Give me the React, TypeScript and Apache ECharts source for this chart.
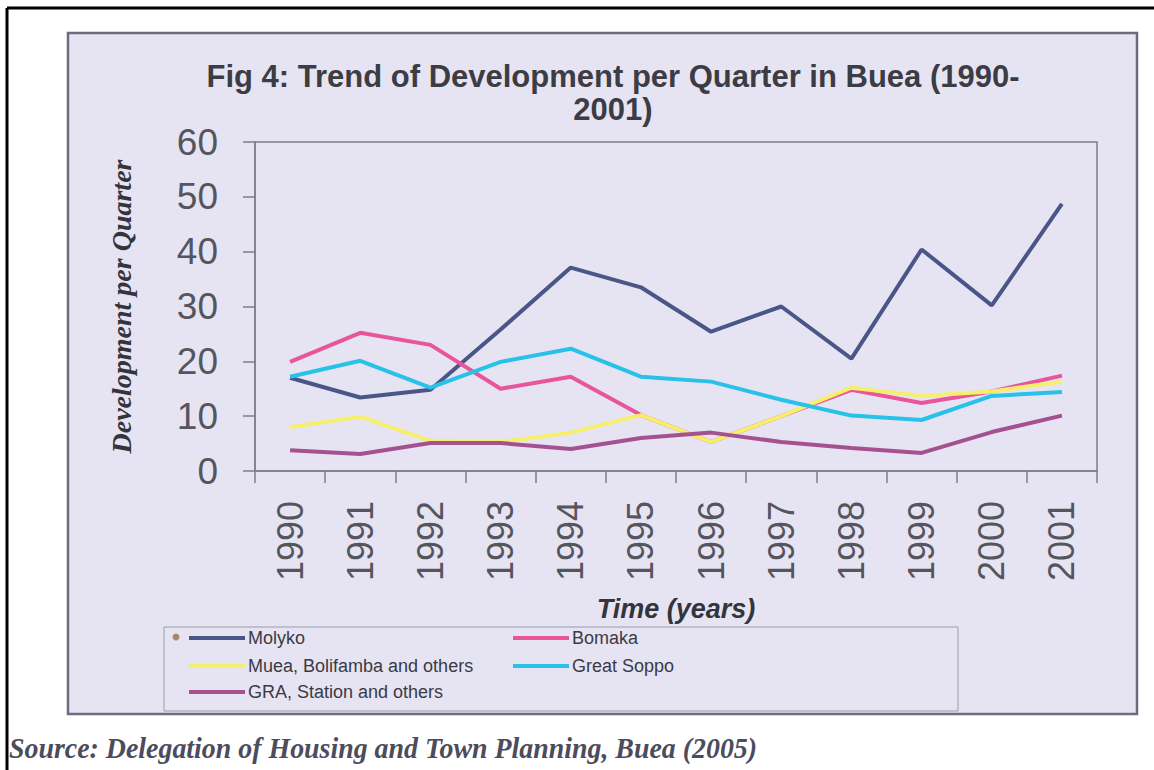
import React, { useEffect, useRef } from "react";
import * as echarts from "echarts";

const years = ["1990", "1991", "1992", "1993", "1994", "1995", "1996", "1997", "1998", "1999", "2000", "2001"];
const molyko = [17.0, 13.4, 14.8, 25.8, 37.1, 33.5, 25.4, 30.0, 20.5, 40.4, 30.2, 48.7];
const bomaka = [19.9, 25.2, 23.0, 15.0, 17.2, 10.2, 5.3, 10.0, 14.8, 12.4, 14.5, 17.4];
const muea = [8.0, 9.9, 5.5, 5.3, 7.0, 10.2, 5.3, 10.0, 15.2, 13.7, 14.5, 16.3];
const greatSoppo = [17.2, 20.1, 15.2, 19.9, 22.3, 17.2, 16.3, 13.0, 10.1, 9.3, 13.7, 14.4];
const gra = [3.8, 3.1, 5.1, 5.1, 4.0, 6.0, 7.0, 5.3, 4.2, 3.3, 7.1, 10.1];

const seriesNames = ["Molyko", "Bomaka", "Muea, Bolifamba and others", "Great Soppo", "GRA, Station and others"];
const seriesColors = ["#4b5688", "#e8559b", "#f6ef6c", "#29c1e8", "#a4528f"];
const seriesData = [molyko, bomaka, muea, greatSoppo, gra];

const titleText = "Fig 4: Trend of Development per Quarter in Buea (1990-\n2001)";
const sourceText = "Source: Delegation of Housing and Town Planning, Buea (2005)";

export default function App() {
  const ref = useRef<HTMLDivElement>(null);
  useEffect(() => {
    const chart = echarts.init(ref.current!, null, { renderer: "svg" });
    const legendPos = [
      { left: 189, top: 628 },
      { left: 513, top: 628 },
      { left: 189, top: 656 },
      { left: 513, top: 656 },
      { left: 189, top: 682 },
    ];
    chart.setOption({
      animation: false,
      backgroundColor: "#ffffff",
      title: {
        text: titleText,
        left: 608,
        top: 55,
        textAlign: "center",
        textStyle: {
          fontFamily: "Liberation Sans, Arial, sans-serif",
          fontWeight: "bold",
          fontSize: 31,
          lineHeight: 33,
          color: "#3c3c44",
        },
      },
      legend: seriesNames.map((n, i) => ({
        data: [n],
        left: legendPos[i].left,
        top: legendPos[i].top,
        padding: 0,
        icon: "rect",
        itemWidth: 56,
        itemHeight: 4,
        itemGap: 3,
        textStyle: {
          fontFamily: "Liberation Sans, Arial, sans-serif",
          fontSize: 18,
          lineHeight: 20,
          color: "#3a3a44",
          padding: [0, 0, 0, -2],
        },
      })),
      grid: {
        left: 255,
        top: 142,
        right: 57,
        bottom: 299,
        show: true,
        borderColor: "#7c7c8c",
        borderWidth: 1.5,
        backgroundColor: "transparent",
      },
      xAxis: {
        type: "category",
        data: years,
        boundaryGap: true,
        name: "Time (years)",
        nameLocation: "middle",
        nameGap: 124,
        nameTextStyle: {
          fontFamily: "Liberation Sans, Arial, sans-serif",
          fontWeight: "bold",
          fontStyle: "italic",
          fontSize: 27,
          color: "#34343c",
        },
        axisLine: { lineStyle: { color: "#7c7c8c", width: 1.5 } },
        axisTick: { show: true, inside: false, length: 12, lineStyle: { color: "#7c7c8c", width: 1.5 } },
        axisLabel: {
          rotate: 90,
          margin: 30,
          fontFamily: "Liberation Sans, Arial, sans-serif",
          fontSize: 36,
          color: "#55555e",
        },
        splitLine: { show: false },
      },
      yAxis: {
        type: "value",
        min: 0,
        max: 60,
        interval: 10,
        name: "Development per Quarter",
        nameLocation: "middle",
        nameRotate: 90,
        nameGap: 120,
        nameTextStyle: {
          fontFamily: "Liberation Serif, Times New Roman, serif",
          fontWeight: "bold",
          fontStyle: "italic",
          fontSize: 28,
          color: "#34343c",
        },
        axisLine: { show: true, lineStyle: { color: "#7c7c8c", width: 1.5 } },
        axisTick: { show: true, inside: false, length: 12, lineStyle: { color: "#7c7c8c", width: 1.5 } },
        axisLabel: {
          margin: 37,
          fontFamily: "Liberation Sans, Arial, sans-serif",
          fontSize: 37,
          color: "#55555e",
        },
        splitLine: { show: false },
      },
      series: seriesNames.map((n, i) => ({
        name: n,
        type: "line",
        data: seriesData[i],
        symbol: "none",
        color: seriesColors[i],
        lineStyle: { width: 4, color: seriesColors[i] },
        z: 2 + i,
      })),
      graphic: [
        {
          type: "rect",
          z: -10,
          shape: { x: 68, y: 33, width: 1069, height: 681 },
          style: { fill: "#e6e4f3", stroke: "#6c6c7c", lineWidth: 2.5 },
        },
        {
          type: "rect",
          z: -9,
          shape: { x: 164, y: 627, width: 794, height: 84 },
          style: { fill: "#e6e4f3", stroke: "#9a9aaa", lineWidth: 1 },
        },
        {
          type: "circle",
          z: 5,
          shape: { cx: 176, cy: 637, r: 3.5 },
          style: { fill: "#a88a6a" },
        },
        {
          type: "line",
          z: 10,
          shape: { x1: 7, y1: 8, x2: 1154, y2: 8 },
          style: { stroke: "#000000", lineWidth: 3 },
        },
        {
          type: "line",
          z: 10,
          shape: { x1: 7, y1: 8, x2: 7, y2: 770 },
          style: { stroke: "#000000", lineWidth: 3 },
        },
        {
          type: "text",
          z: 10,
          x: 9,
          y: 733,
          scaleX: 0.93,
          style: {
            text: sourceText,
            font: "italic bold 30px 'Liberation Serif', 'Times New Roman', serif",
            fill: "#4c4c5c",
          },
        },
      ],
    });
    return () => chart.dispose();
  }, []);
  return (
    <div
      ref={ref}
      style={{ position: "fixed", left: 0, top: 0, width: 1154, height: 770, background: "#fff" }}
    />
  );
}
